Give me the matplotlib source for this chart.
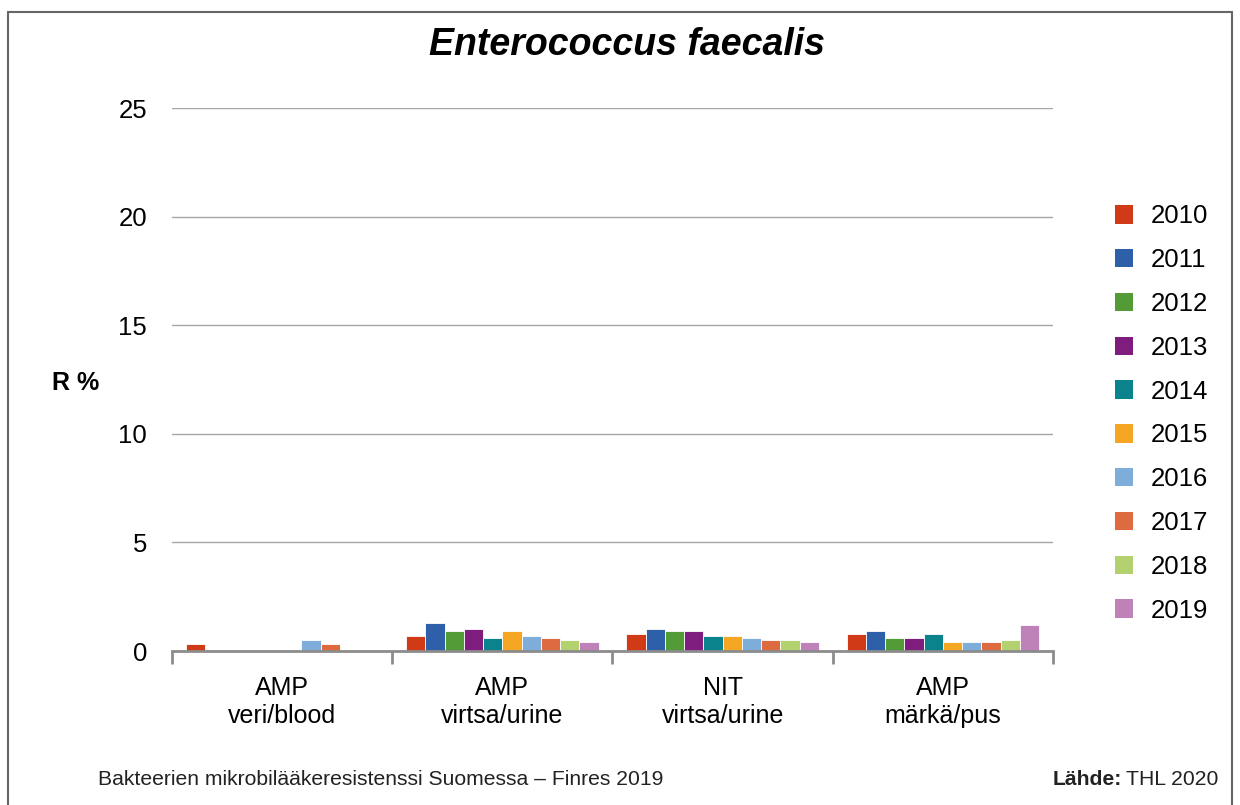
import matplotlib

matplotlib.use("Agg")

import matplotlib.pyplot as plt
import numpy as np
from matplotlib.patches import Patch, Rectangle

plt.rcParams["font.family"] = ["Liberation Sans", "DejaVu Sans"]

categories = ["AMP\nveri/blood", "AMP\nvirtsa/urine", "NIT\nvirtsa/urine", "AMP\nmärkä/pus"]
years = ["2010", "2011", "2012", "2013", "2014", "2015", "2016", "2017", "2018", "2019"]
colors = ["#d13a17", "#2e60aa", "#529b36", "#7f1d7e", "#0a838c",
          "#f5a623", "#7fadd9", "#de6a40", "#b3d16f", "#bf82b8"]

# R % per year, one list per category (nan = no data)
amp_blood = [0.3, np.nan, np.nan, np.nan, np.nan, np.nan, 0.5, 0.3, np.nan, np.nan]
amp_urine = [0.7, 1.3, 0.9, 1.0, 0.6, 0.9, 0.7, 0.6, 0.5, 0.4]
nit_urine = [0.8, 1.0, 0.9, 0.9, 0.7, 0.7, 0.6, 0.5, 0.5, 0.4]
amp_pus = [0.8, 0.9, 0.6, 0.6, 0.8, 0.4, 0.4, 0.4, 0.5, 1.2]
yticks = [0, 5, 10, 15, 20, 25]

values = np.array([amp_blood, amp_urine, nit_urine, amp_pus])

fig = plt.figure(figsize=(12.4, 8.05), dpi=100)
ax = fig.add_axes([0.1387, 0.1913, 0.7105, 0.6745])

x = np.arange(len(categories))
w = 0.0873
for i, year in enumerate(years):
    ax.bar(x + (i - 4.5) * w, values[:, i], width=w, color=colors[i],
           edgecolor="white", linewidth=0.6, zorder=3, label=year)

ax.set_xlim(-0.5, 3.5)
ax.set_ylim(0, 25)
ax.set_yticks(yticks)
ax.set_yticklabels([str(t) for t in yticks], fontsize=18.5)
ax.yaxis.grid(True, color="#a6a6a6", linewidth=1.0, zorder=0)
ax.tick_params(axis="y", length=0, pad=18)

ax.set_xticks(x)
ax.set_xticklabels(categories, fontsize=18, linespacing=1.2)
ax.tick_params(axis="x", length=0, pad=18)
ax.set_xticks(np.arange(-0.5, 4.0, 1.0), minor=True)
ax.tick_params(axis="x", which="minor", length=9, width=2, color="#8c8c8c")

for side in ["top", "right", "left"]:
    ax.spines[side].set_visible(False)
ax.spines["bottom"].set_color("#8c8c8c")
ax.spines["bottom"].set_linewidth(2)
ax.spines["bottom"].set_zorder(4)

fig.text(0.061, 0.524, "R %", fontsize=18, fontweight="bold", ha="center", va="center")
fig.text(0.506, 0.944, "Enterococcus faecalis", fontsize=27, fontweight="bold",
         style="italic", ha="center", va="center")

handles = [Patch(facecolor=c, edgecolor="none") for c in colors]
fig.legend(handles, years, loc="upper left", bbox_to_anchor=(0.899, 0.746),
           frameon=False, fontsize=18.5, handlelength=0.72, handleheight=0.72,
           handletextpad=0.7, labelspacing=0.77, borderaxespad=0, borderpad=0)

# footer
fig.text(0.079, 0.032, "Bakteerien mikrobilääkeresistenssi Suomessa – Finres 2019",
         fontsize=15.2, color="#222222", ha="left", va="center")
fig.text(1053 / 1240, 0.032, "Lähde:", fontsize=15.2, fontweight="bold",
         color="#222222", ha="left", va="center")
fig.text(1218 / 1240, 0.032, "THL 2020", fontsize=15.2, color="#222222",
         ha="right", va="center")

fig.patches.append(Rectangle((8 / 1240, -0.01), 1224 / 1240, 1 - 12 / 805 + 0.01,
                             transform=fig.transFigure, fill=False,
                             edgecolor="#666666", linewidth=1.5))

fig.savefig("out.png", dpi=100)
